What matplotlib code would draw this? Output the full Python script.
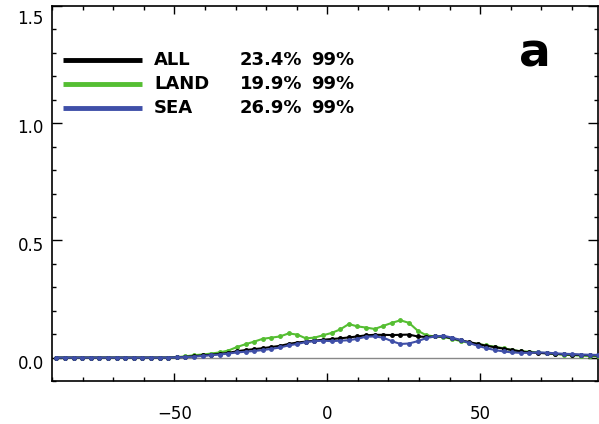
import numpy as np
import matplotlib
matplotlib.use('Agg')
import matplotlib.pyplot as plt
import matplotlib.transforms as mtransforms
from matplotlib.ticker import MultipleLocator

# latitude grid (64 bands, 2.8125 deg)
lat = -88.59375 + 2.8125 * np.arange(64)

all_v = [0.0, 0.0, 0.0, 0.0, 0.0, 0.0, 0.0, 0.0, 0.0, 0.0, 0.0, 0.0, 0.0, 0.0,
         0.001, 0.003, 0.006, 0.009, 0.012, 0.016, 0.020, 0.027, 0.032, 0.036,
         0.040, 0.045, 0.050, 0.058, 0.064, 0.068, 0.072, 0.076, 0.079, 0.082,
         0.086, 0.090, 0.095, 0.097, 0.097, 0.096, 0.097, 0.098, 0.090, 0.088,
         0.090, 0.090, 0.082, 0.074, 0.066, 0.058, 0.050, 0.044, 0.038, 0.032,
         0.026, 0.022, 0.020, 0.018, 0.016, 0.014, 0.012, 0.011, 0.010, 0.009]
land_v = [0.0, 0.0, 0.0, 0.0, 0.0, 0.0, 0.0, 0.0, 0.0, 0.0, 0.0, 0.0, 0.0, 0.0,
          0.002, 0.005, 0.010, 0.013, 0.017, 0.022, 0.030, 0.045, 0.057, 0.068,
          0.080, 0.085, 0.090, 0.103, 0.098, 0.082, 0.085, 0.095, 0.105, 0.120,
          0.143, 0.133, 0.128, 0.122, 0.135, 0.148, 0.159, 0.148, 0.115, 0.095,
          0.090, 0.088, 0.080, 0.070, 0.063, 0.058, 0.052, 0.046, 0.040, 0.032,
          0.027, 0.025, 0.022, 0.018, 0.015, 0.012, 0.010, 0.008, 0.007, 0.006]
sea_v = [0.0, 0.0, 0.0, 0.0, 0.0, 0.0, 0.0, 0.0, 0.0, 0.0, 0.0, 0.0, 0.0, 0.0,
         0.001, 0.002, 0.004, 0.007, 0.010, 0.013, 0.017, 0.022, 0.025, 0.028,
         0.032, 0.037, 0.043, 0.052, 0.058, 0.066, 0.070, 0.072, 0.070, 0.072,
         0.074, 0.080, 0.089, 0.090, 0.085, 0.070, 0.058, 0.060, 0.070, 0.083,
         0.090, 0.093, 0.085, 0.075, 0.062, 0.050, 0.040, 0.032, 0.026, 0.022,
         0.020, 0.020, 0.022, 0.021, 0.018, 0.016, 0.015, 0.013, 0.012, 0.011]

names = ['ALL', 'LAND', 'SEA']
pcts = ['23.4%', '19.9%', '26.9%']
sig = ['99%', '99%', '99%']
colors = ['black', '#55BE32', '#3F4FA8']

fig = plt.figure(figsize=(5.99, 4.24), dpi=100)
ax = fig.add_axes([52/599, 43/424, 546/599, 375/424])

ax.axhline(0, color='#888888', lw=1, zorder=1)
for vals, c in zip([land_v, all_v, sea_v], [colors[1], colors[0], colors[2]]):
    ax.plot(lat, vals, color=c, lw=1.5, marker='o', ms=2.5, zorder=3)

ax.set_xlim(-90, 88.5)
ax.set_ylim(-0.1, 1.5)
ax.set_xticks([-50, 0, 50])
ax.set_xticklabels(['\u221250', '0', '50'])
ax.set_yticks([0.0, 0.5, 1.0, 1.5])
ax.set_yticklabels(['0.0', '0.5', '1.0', '1.5'])
ax.xaxis.set_minor_locator(MultipleLocator(10))
ax.yaxis.set_minor_locator(MultipleLocator(0.1))
ax.tick_params(which='both', direction='in', top=True, right=True, width=1)
ax.tick_params(which='major', length=6, labelsize=12)
ax.tick_params(axis='x', which='major', pad=17)
ax.tick_params(axis='y', which='major', pad=6, length=7)
ax.tick_params(which='minor', length=3)
for s in ax.spines.values():
    s.set_linewidth(1.2)

# y labels sit a little below their ticks in the original
for lab, dy in zip(ax.get_yticklabels(), [4, 4, 3, 11]):
    off = mtransforms.ScaledTranslation(0, -dy / 100, fig.dpi_scale_trans)
    lab.set_transform(lab.get_transform() + off)

ys = [0.856, 0.792, 0.728]
for y, n, p, s, c in zip(ys, names, pcts, sig, colors):
    ax.plot([0.020, 0.165], [y, y], color=c, lw=3.5, transform=ax.transAxes,
            solid_capstyle='butt')
    ax.text(0.187, y, n, transform=ax.transAxes, fontsize=13,
            fontweight='heavy', va='center', ha='left')
    ax.text(0.458, y, p, transform=ax.transAxes, fontsize=13,
            fontweight='heavy', va='center', ha='right')
    ax.text(0.474, y, s, transform=ax.transAxes, fontsize=13,
            fontweight='heavy', va='center', ha='left')

ax.text(0.885, 0.872, 'a', transform=ax.transAxes, fontsize=34,
        fontweight='bold', ha='center', va='center')

fig.savefig('out.png', dpi=100)
